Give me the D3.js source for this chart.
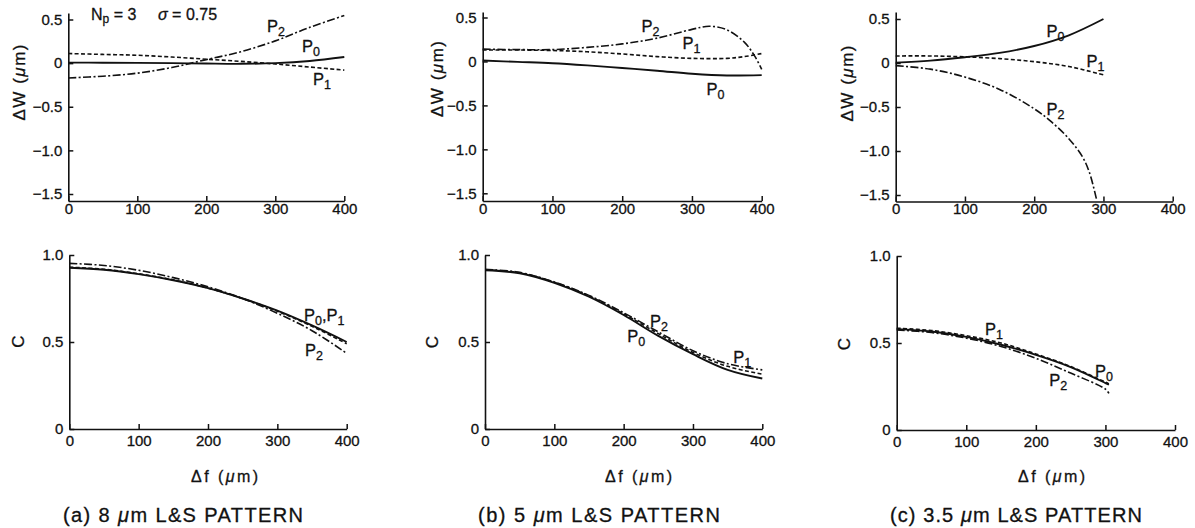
<!DOCTYPE html>
<html>
<head>
<meta charset="utf-8">
<script src="https://cdn.jsdelivr.net/npm/d3@7"></script>
<style>
  html, body { margin: 0; padding: 0; background: #fff; }
  svg { display: block; }
  text { font-family: "Liberation Sans", Arial, Helvetica, sans-serif; fill: #111; stroke: #111; stroke-width: 0.3px; }
</style>
</head>
<body>
<svg id="fig" width="1195" height="528"></svg>
<script>
// ---------- data: wavefront deviation ΔW (µm) vs defocus Δf (µm) ----------
const dfTicks = [0, 100, 200, 300, 400];
const dWTicks = [0.5, 0, -0.5, -1.0, -1.5];
const dWTickLabels = ["0.5", "0", "\u22120.5", "\u22121.0", "\u22121.5"];
const cTicks = [0, 0.5, 1.0];
const cTickLabels = ["0", "0.5", "1.0"];

// (a) 8 µm L&S
const dfA = [0, 50, 100, 150, 200, 250, 300, 350, 400];
const dWa_P0 = [0.006, 0.005, 0.003, 0.0, -0.005, -0.008, 0.0, 0.025, 0.07];
const dWa_P1 = [0.11, 0.10, 0.09, 0.07, 0.045, 0.02, -0.01, -0.045, -0.08];
const dWa_P2 = [-0.17, -0.15, -0.115, -0.05, 0.04, 0.13, 0.255, 0.41, 0.545];

// (b) 5 µm L&S
const dfB0 = [0, 50, 100, 150, 200, 250, 300, 350, 400];
const dWb_P0 = [0.01, -0.005, -0.02, -0.045, -0.075, -0.105, -0.14, -0.16, -0.155];
const dfB1 = [0, 50, 100, 150, 200, 250, 300, 350, 375, 400];
const dWb_P1 = [0.13, 0.13, 0.125, 0.11, 0.085, 0.055, 0.035, 0.035, 0.055, 0.09];
const dfB2 = [0, 50, 100, 150, 200, 250, 300, 325, 350, 375, 390, 400];
const dWb_P2 = [0.14, 0.135, 0.135, 0.16, 0.2, 0.265, 0.365, 0.4, 0.36, 0.22, 0.06, -0.09];

// (c) 3.5 µm L&S
const dfC = [0, 50, 100, 150, 200, 250, 300];
const dWc_P0 = [0.004, 0.027, 0.066, 0.115, 0.193, 0.315, 0.5];
const dWc_P1 = [0.08, 0.08, 0.07, 0.05, 0.015, -0.04, -0.135];
const dfC2 = [0, 50, 100, 150, 200, 225, 250, 270, 280, 290];
const dWc_P2 = [-0.03, -0.07, -0.16, -0.3, -0.52, -0.67, -0.86, -1.07, -1.25, -1.55];

// ---------- data: contrast C vs defocus Δf (µm) ----------
const cA_P0 = [0.927, 0.915, 0.89, 0.855, 0.81, 0.75, 0.68, 0.595, 0.5];
const cA_P1 = [0.93, 0.918, 0.892, 0.857, 0.81, 0.75, 0.677, 0.59, 0.49];
const cA_P2 = [0.952, 0.94, 0.912, 0.87, 0.817, 0.75, 0.665, 0.565, 0.435];

const dfCb = [0, 50, 100, 150, 200, 250, 300, 350, 400];
const cB_P0 = [0.912, 0.895, 0.84, 0.76, 0.655, 0.535, 0.43, 0.34, 0.29];
const cB_P1 = [0.915, 0.898, 0.843, 0.765, 0.662, 0.548, 0.44, 0.36, 0.315];
const cB_P2 = [0.918, 0.9, 0.845, 0.768, 0.668, 0.558, 0.45, 0.375, 0.34];

const dfCc = [0, 50, 100, 150, 200, 250, 300, 305];
const cC_P0 = [0.58, 0.566, 0.535, 0.49, 0.432, 0.362, 0.27, 0.26];
const cC_P1 = [0.585, 0.572, 0.542, 0.5, 0.437, 0.365, 0.275, 0.265];
const cC_P2 = [0.575, 0.56, 0.528, 0.48, 0.412, 0.327, 0.235, 0.21];

const captions = [["(a) 8 ", "m L&S PATTERN"], ["(b) 5 ", "m L&S PATTERN"], ["(c) 3.5 ", "m L&S PATTERN"]];

// ---------- drawing ----------
const svg = d3.select("#fig");
const INK = "#111";
const styles = {
  P0: { width: 1.9, dash: null },
  P1: { width: 1.6, dash: "4,2.4" },
  P2: { width: 1.6, dash: "8,2.4,2,2.4" }
};

function zip(xs, ys) { return xs.map((x, i) => [x, ys[i]]); }

function drawPanel(cfg) {
  const g = svg.append("g");
  const x = d3.scaleLinear().domain([0, 400]).range([cfg.x0, cfg.x1]);
  const y = d3.scaleLinear().domain(cfg.yRef).range(cfg.yRefPx);
  // full axis extent, a little beyond the outer tick values
  const yAxisScale = y.copy()
    .domain([y.invert(cfg.axisBottom), y.invert(cfg.axisTop)])
    .range([cfg.axisBottom, cfg.axisTop]);

  const xAxis = d3.axisBottom(x).tickValues(dfTicks).tickSize(-5).tickSizeOuter(0).tickPadding(0)
    .tickFormat(d => String(d));
  const gx = g.append("g").attr("transform", `translate(0,${cfg.axisBottom})`).call(xAxis);
  gx.selectAll("text").attr("y", cfg.xLabelGap).attr("dy", "0.71em");

  const yAxis = d3.axisLeft(yAxisScale).tickValues(cfg.ticks).tickSize(-5).tickSizeOuter(0).tickPadding(6)
    .tickFormat((d, i) => cfg.tickLabels[i]);
  const gy = g.append("g").attr("transform", `translate(${cfg.x0},0)`).call(yAxis);

  [gx, gy].forEach(a => {
    a.select(".domain").attr("stroke", INK).attr("stroke-width", 1.6);
    a.selectAll(".tick line").attr("stroke", INK).attr("stroke-width", 1.5);
    a.selectAll("text").attr("font-family", "Liberation Sans, Arial, sans-serif")
      .attr("font-size", 15).attr("fill", INK);
  });

  const line = d3.line().x(d => x(d[0])).y(d => y(d[1])).curve(d3.curveCatmullRom.alpha(0.5));
  cfg.series.forEach(s => {
    const st = styles[s.key];
    g.append("path").datum(zip(s.xs, s.ys))
      .attr("d", line).attr("fill", "none").attr("stroke", INK)
      .attr("stroke-width", st.width)
      .attr("stroke-dasharray", st.dash)
      .attr("stroke-linecap", "butt");
  });

  // axis title (rotated)
  const t = g.append("text")
    .attr("transform", `translate(${cfg.titlePos[0]},${cfg.titlePos[1]}) rotate(-90)`)
    .attr("text-anchor", "middle").attr("dominant-baseline", "central")
    .attr("font-size", 17);
  if (cfg.title === "dW") {
    t.append("tspan").text("\u0394W (");
    t.append("tspan").attr("font-style", "italic").text("\u03bc");
    t.append("tspan").text("m)");
    t.attr("textLength", 76).attr("lengthAdjust", "spacing");
  } else {
    t.text("C").attr("font-size", 17);
  }

  // curve labels P0 / P1 / P2
  cfg.labels.forEach(l => {
    const tx = g.append("text").attr("x", l.pos[0]).attr("y", l.pos[1]).attr("font-size", 16.5);
    l.parts.forEach((p, i) => {
      tx.append("tspan").text("P");
      tx.append("tspan").attr("font-size", 12.5).attr("dy", 4).text(p);
      if (i < l.parts.length - 1) tx.append("tspan").attr("dy", -4).text(",");
    });
  });
  return { x, y };
}

// top row: ΔW
const topLayout = [
  { x0: 68.3, x1: 344.3, yRefPx: [194, 19.5], axisTop: 13, axisBottom: 201, dWtitle: [18.5, 82.5] },
  { x0: 482.7, x1: 761.7, yRefPx: [193.3, 17.5], axisTop: 12, axisBottom: 201, dWtitle: [437, 79] },
  { x0: 895.7, x1: 1172.7, yRefPx: [195, 19], axisTop: 12, axisBottom: 201.5, dWtitle: [846.5, 83.5] }
];
const topSeries = [
  [{ key: "P0", xs: dfA, ys: dWa_P0 }, { key: "P1", xs: dfA, ys: dWa_P1 }, { key: "P2", xs: dfA, ys: dWa_P2 }],
  [{ key: "P0", xs: dfB0, ys: dWb_P0 }, { key: "P1", xs: dfB1, ys: dWb_P1 }, { key: "P2", xs: dfB2, ys: dWb_P2 }],
  [{ key: "P0", xs: dfC, ys: dWc_P0 }, { key: "P1", xs: dfC, ys: dWc_P1 }, { key: "P2", xs: dfC2, ys: dWc_P2 }]
];
const topLabels = [
  [{ parts: ["2"], pos: [267, 31.5] }, { parts: ["0"], pos: [302, 51.5] }, { parts: ["1"], pos: [313, 85] }],
  [{ parts: ["2"], pos: [641.5, 31.5] }, { parts: ["1"], pos: [682.5, 48.5] }, { parts: ["0"], pos: [706.5, 95] }],
  [{ parts: ["0"], pos: [1046.5, 36.5] }, { parts: ["1"], pos: [1086.5, 66.5] }, { parts: ["2"], pos: [1046.5, 115] }]
];
topLayout.forEach((L, i) => drawPanel({
  x0: L.x0, x1: L.x1, yRef: [-1.5, 0.5], yRefPx: L.yRefPx,
  axisTop: L.axisTop, axisBottom: L.axisBottom, xLabelGap: 2,
  ticks: dWTicks, tickLabels: dWTickLabels,
  series: topSeries[i], labels: topLabels[i],
  title: "dW", titlePos: L.dWtitle
}));

// bottom row: C
const botLayout = [
  { x0: 69.3, x1: 346.7, yRefPx: [429, 255], title: [18.5, 341.5] },
  { x0: 485, x1: 762.3, yRefPx: [429, 255], title: [432, 342] },
  { x0: 896.7, x1: 1175, yRefPx: [430, 256], title: [844, 344] }
];
const botSeries = [
  [{ key: "P0", xs: dfA, ys: cA_P0 }, { key: "P1", xs: dfA, ys: cA_P1 }, { key: "P2", xs: dfA, ys: cA_P2 }],
  [{ key: "P0", xs: dfCb, ys: cB_P0 }, { key: "P1", xs: dfCb, ys: cB_P1 }, { key: "P2", xs: dfCb, ys: cB_P2 }],
  [{ key: "P0", xs: dfCc, ys: cC_P0 }, { key: "P1", xs: dfCc, ys: cC_P1 }, { key: "P2", xs: dfCc, ys: cC_P2 }]
];
const botLabels = [
  [{ parts: ["0", "1"], pos: [304, 320.5] }, { parts: ["2"], pos: [305, 356] }],
  [{ parts: ["2"], pos: [650, 326.5] }, { parts: ["0"], pos: [627.3, 341.5] }, { parts: ["1"], pos: [733.3, 362.5] }],
  [{ parts: ["1"], pos: [985, 335] }, { parts: ["0"], pos: [1095, 376.5] }, { parts: ["2"], pos: [1049.3, 386] }]
];
botLayout.forEach((L, i) => drawPanel({
  x0: L.x0, x1: L.x1, yRef: [0, 1.0], yRefPx: L.yRefPx,
  axisTop: L.yRefPx[1], axisBottom: L.yRefPx[0], xLabelGap: 6,
  ticks: cTicks, tickLabels: cTickLabels,
  series: botSeries[i], labels: botLabels[i],
  title: "C", titlePos: L.title
}));

// annotation in panel (a)
const np = svg.append("text").attr("x", 91).attr("y", 20).attr("font-size", 16);
np.append("tspan").text("N");
np.append("tspan").attr("font-size", 12).attr("dy", 3).text("p");
np.append("tspan").attr("dy", -3).text(" = 3");
const sg = svg.append("text").attr("x", 158).attr("y", 20).attr("font-size", 16);
sg.append("tspan").attr("font-style", "italic").text("\u03c3");
sg.append("tspan").text(" = 0.75");

// Δf axis titles and panel captions
const dfTitleX = [191, 605, 1018];
const captionX = [63, 478, 890];
const captionW = [240, 242, 252];
dfTitleX.forEach((x0, i) => {
  const t = svg.append("text").attr("x", x0).attr("y", 482).attr("font-size", 16)
    .attr("textLength", 67).attr("lengthAdjust", "spacing");
  t.append("tspan").text("\u0394f (");
  t.append("tspan").attr("font-style", "italic").text("\u03bc");
  t.append("tspan").text("m)");

  const c = svg.append("text").attr("x", captionX[i]).attr("y", 522).attr("font-size", 20)
    .attr("textLength", captionW[i]).attr("lengthAdjust", "spacing");
  c.append("tspan").text(captions[i][0]);
  c.append("tspan").attr("font-style", "italic").text("\u03bc");
  c.append("tspan").text(captions[i][1]);
});
</script>
</body>
</html>
